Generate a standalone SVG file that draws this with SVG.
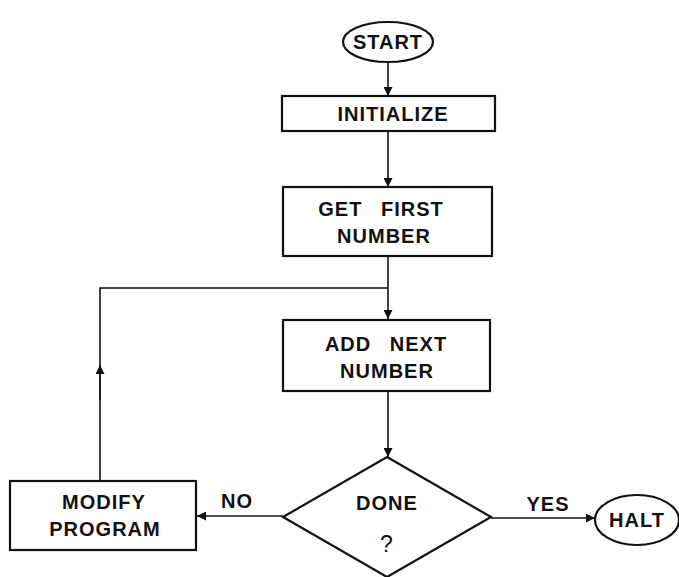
<svg xmlns="http://www.w3.org/2000/svg" width="679" height="577" viewBox="0 0 679 577">
  <style>
    .shape { fill: #fff; stroke: #111; stroke-width: 2.2; }
    .wire { fill: none; stroke: #111; stroke-width: 1.6; }
    .lbl { font-family: "Liberation Sans", Arial, sans-serif; font-weight: bold; font-size: 20px; fill: #111; text-anchor: middle; letter-spacing: 1px; }
  </style>
  <defs>
    <marker id="arrow" viewBox="0 0 10 10" refX="10" refY="5" markerWidth="9" markerHeight="9" markerUnits="userSpaceOnUse" orient="auto">
      <path d="M0,0 L10,5 L0,10 z" fill="#111"/>
    </marker>
  </defs>
  <rect width="679" height="577" fill="#fff"/>

  <g id="connectors">
    <line class="wire" x1="388" y1="62" x2="388" y2="96" marker-end="url(#arrow)"/>
    <line class="wire" x1="388" y1="131" x2="388" y2="187" marker-end="url(#arrow)"/>
    <line class="wire" x1="388" y1="256" x2="388" y2="319" marker-end="url(#arrow)"/>
    <line class="wire" x1="388" y1="391" x2="388" y2="457" marker-end="url(#arrow)"/>
    <line class="wire" x1="283" y1="516" x2="197" y2="516" marker-end="url(#arrow)"/>
    <line class="wire" x1="491" y1="518" x2="595" y2="518" marker-end="url(#arrow)"/>
    <path class="wire" d="M100,481 L100,288 L388,288"/>
    <line class="wire" x1="100" y1="400" x2="100" y2="365" marker-end="url(#arrow)"/>
    <text class="lbl" x="237" y="508">NO</text>
    <text class="lbl" x="548" y="511">YES</text>
  </g>

  <g id="start">
    <ellipse class="shape" cx="388" cy="42" rx="45" ry="20"/>
    <text class="lbl" x="388" y="49">START</text>
  </g>

  <g id="initialize">
    <rect class="shape" x="282" y="96" width="213" height="35"/>
    <text class="lbl" x="393" y="121">INITIALIZE</text>
  </g>

  <g id="get-first">
    <rect class="shape" x="283" y="187" width="209" height="69"/>
    <text class="lbl" x="381" y="216" word-spacing="12">GET FIRST</text>
    <text class="lbl" x="384" y="243">NUMBER</text>
  </g>

  <g id="add-next">
    <rect class="shape" x="283" y="320" width="207" height="71"/>
    <text class="lbl" x="386" y="351" word-spacing="12">ADD NEXT</text>
    <text class="lbl" x="387" y="378">NUMBER</text>
  </g>

  <g id="done">
    <polygon class="shape" points="387,457 491,517 387,577 283,517"/>
    <text class="lbl" x="387" y="510">DONE</text>
    <text class="lbl" x="387" y="552" style="font-weight:normal;font-size:23px">?</text>
  </g>

  <g id="modify">
    <rect class="shape" x="10" y="481" width="186" height="69"/>
    <text class="lbl" x="104" y="509">MODIFY</text>
    <text class="lbl" x="105" y="536">PROGRAM</text>
  </g>

  <g id="halt">
    <ellipse class="shape" cx="637" cy="520" rx="42" ry="25"/>
    <text class="lbl" x="637" y="527">HALT</text>
  </g>
</svg>
